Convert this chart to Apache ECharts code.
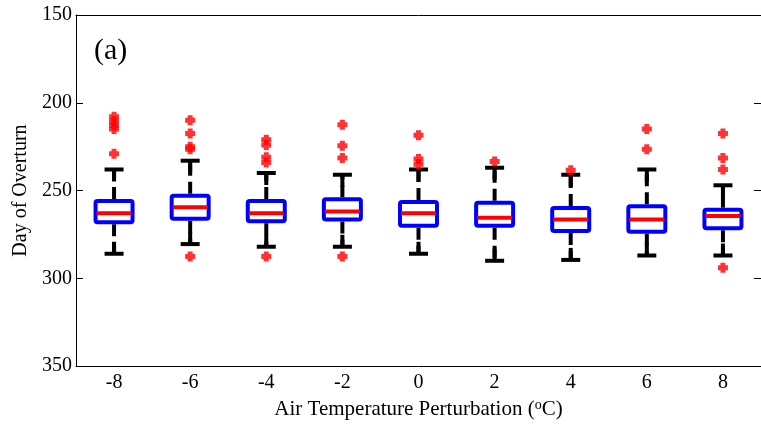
<!DOCTYPE html>
<html>
<head>
<meta charset="utf-8">
<script src="https://cdn.jsdelivr.net/npm/echarts@6/dist/echarts.min.js"></script>
<style>html,body{margin:0;padding:0;background:#fff}#c{width:761px;height:425px}</style>
</head>
<body>
<div id="c"></div>
<script>
// ---- data ----
const categories = ['-8', '-6', '-4', '-2', '0', '2', '4', '6', '8'];
const whiskerTop = [238, 233, 240, 241, 238, 237, 241, 238, 247];
const q1 = [256, 253, 256, 255, 256.5, 257, 260, 259, 261];
const median = [263, 259.5, 263, 262, 263, 265.5, 266.5, 266.5, 264.5];
const q3 = [268, 266, 267.5, 266.5, 270, 270, 273, 273.5, 271.5];
const whiskerBottom = [286, 280.5, 282, 282, 286, 290, 289.5, 287, 287];
const outliers = [
  [208, 210.5, 213, 215, 229],
  [210, 217.5, 225, 226.5, 287.5],
  [221, 224, 231, 234, 287.5],
  [212.5, 224.5, 231.5, 287.5],
  [218.5, 232, 235],
  [233.5],
  [238.5],
  [215, 226.5],
  [217.5, 231.5, 238, 294]
];
const yTicks = { min: 150, max: 350, interval: 50 };

// ---- build ----
const boxData = categories.map((c, i) => [i, whiskerTop[i], q1[i], median[i], q3[i], whiskerBottom[i]]);
const outlierData = [];
outliers.forEach((arr, i) => arr.forEach(v => outlierData.push([i, v])));

const FONT = 'Liberation Serif';
const chart = echarts.init(document.getElementById('c'), null, { renderer: 'canvas' });

function renderBox(params, api) {
  const x = api.value(0);
  const pTop = api.coord([x, api.value(1)]);
  const pQ1 = api.coord([x, api.value(2)]);
  const pMed = api.coord([x, api.value(3)]);
  const pQ3 = api.coord([x, api.value(4)]);
  const pBot = api.coord([x, api.value(5)]);
  const cx = pMed[0];
  const bw = 37, cw = 19;
  const dash = { stroke: '#000', lineWidth: 4, lineDash: [12, 6], lineCap: 'butt' };
  const solid = { stroke: '#000', lineWidth: 4 };
  return {
    type: 'group',
    children: [
      { type: 'line', shape: { x1: cx, y1: pQ1[1] - 2, x2: cx, y2: pTop[1] }, style: dash },
      { type: 'line', shape: { x1: cx, y1: pQ3[1] + 2, x2: cx, y2: pBot[1] }, style: dash },
      { type: 'line', shape: { x1: cx, y1: pTop[1], x2: cx, y2: pTop[1] + 12 }, style: solid },
      { type: 'line', shape: { x1: cx, y1: pBot[1], x2: cx, y2: pBot[1] - 12 }, style: solid },
      { type: 'line', shape: { x1: cx - cw / 2, y1: pTop[1], x2: cx + cw / 2, y2: pTop[1] }, style: solid },
      { type: 'line', shape: { x1: cx - cw / 2, y1: pBot[1], x2: cx + cw / 2, y2: pBot[1] }, style: solid },
      { type: 'rect', shape: { x: cx - bw / 2, y: Math.min(pQ1[1], pQ3[1]), width: bw, height: Math.abs(pQ3[1] - pQ1[1]), r: 2 },
        style: { fill: '#fff', stroke: '#0000ff', lineWidth: 4 } },
      { type: 'line', shape: { x1: cx - bw / 2 + 1, y1: pMed[1], x2: cx + bw / 2 - 1, y2: pMed[1] }, style: { stroke: '#ff0000', lineWidth: 4 } }
    ]
  };
}

const option = {
  backgroundColor: '#fff',
  animation: false,
  grid: { left: 76, top: 15, width: 687, height: 355, show: false },
  xAxis: [
    {
      type: 'category', data: categories, position: 'bottom', boundaryGap: true,
      name: 'Air Temperature Perturbation ({sup|o}C)', nameLocation: 'middle', nameGap: 29,
      nameTextStyle: { fontFamily: FONT, fontSize: 21, color: '#000',
        rich: { sup: { fontFamily: FONT, fontSize: 14, color: '#000', verticalAlign: 'top', padding: [0, 0, 9, 0] } } },
      axisLine: { lineStyle: { color: '#000', width: 1 } },
      axisTick: { alignWithLabel: true, inside: true, length: 7, lineStyle: { color: '#000' } },
      axisLabel: { fontFamily: FONT, fontSize: 20, color: '#000', margin: 7 },
      splitLine: { show: false }
    },
    {
      type: 'category', data: categories, position: 'top', boundaryGap: true,
      axisLine: { lineStyle: { color: '#000', width: 1 } },
      axisTick: { alignWithLabel: true, inside: true, length: 7, lineStyle: { color: '#000' } },
      axisLabel: { show: false }, splitLine: { show: false }
    }
  ],
  yAxis: [
    {
      type: 'value', inverse: true, min: yTicks.min, max: yTicks.max, interval: yTicks.interval, position: 'left',
      name: 'Day of Overturn', nameLocation: 'middle', nameRotate: 90, nameGap: 44,
      nameTextStyle: { fontFamily: FONT, fontSize: 20, color: '#000' },
      axisLine: { show: true, lineStyle: { color: '#000', width: 1 } },
      axisTick: { show: true, inside: true, length: 7, lineStyle: { color: '#000' } },
      axisLabel: { fontFamily: FONT, fontSize: 20, color: '#000', margin: 4 },
      splitLine: { show: false }
    },
    {
      type: 'value', inverse: true, min: yTicks.min, max: yTicks.max, interval: yTicks.interval, position: 'right',
      axisLine: { show: false },
      axisTick: { show: true, inside: true, length: 7, lineStyle: { color: '#000' } },
      axisLabel: { show: false }, splitLine: { show: false }
    }
  ],
  graphic: [
    { type: 'text', left: 94, top: 36, style: { text: '(a)', fontFamily: FONT, fontSize: 30, fill: '#000' } }
  ],
  series: [
    {
      type: 'custom', xAxisIndex: 0, yAxisIndex: 0, renderItem: renderBox,
      encode: { x: 0, y: [1, 2, 3, 4, 5] }, data: boxData, clip: false
    },
    {
      type: 'scatter', xAxisIndex: 0, yAxisIndex: 0, data: outlierData,
      symbol: 'path://M2.5,0H7.5V2.5H10V7.5H7.5V10H2.5V7.5H0V2.5H2.5Z', symbolSize: 10,
      itemStyle: { color: '#ff0000' }, z: 5
    }
  ]
};
chart.setOption(option);
</script>
</body>
</html>
